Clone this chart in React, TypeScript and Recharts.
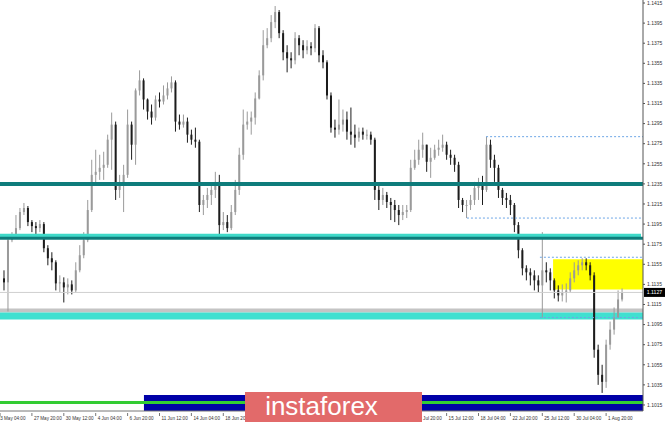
import { ComposedChart, Bar, XAxis, YAxis, ReferenceLine, ReferenceArea } from 'recharts';

// EURUSD H4, one candle per two bars, prices
const FIRST_OPEN = 1.1141;
const CLOSE = [
  1.1137, 1.1179, 1.1183, 1.1191, 1.1207, 1.1211, 1.1197, 1.1193, 1.1191, 1.1195,
  1.1171, 1.1161, 1.1157, 1.1136, 1.1137, 1.1132, 1.1135, 1.1129, 1.1149, 1.1164,
  1.1179, 1.1209, 1.1244, 1.1247, 1.1251, 1.1254, 1.1279, 1.1294, 1.1229, 1.1234,
  1.1244, 1.1294, 1.1274, 1.1328, 1.1338, 1.1319, 1.1307, 1.1301, 1.1319, 1.1317,
  1.1323, 1.1330, 1.1336, 1.1297, 1.1294, 1.1297, 1.1284, 1.1279, 1.1277, 1.1214,
  1.1219, 1.1224, 1.1229, 1.1237, 1.1194, 1.1197, 1.1191, 1.1207, 1.1229, 1.1264,
  1.1294, 1.1297, 1.1301, 1.1320, 1.1343, 1.1373, 1.1380, 1.1396, 1.1406, 1.1385,
  1.1366, 1.1360, 1.1358, 1.1380, 1.1373, 1.1368, 1.1372, 1.1370, 1.1390, 1.1363,
  1.1356, 1.1323, 1.1291, 1.1289, 1.1294, 1.1299, 1.1287, 1.1284, 1.1281, 1.1287,
  1.1284, 1.1284, 1.1279, 1.1229, 1.1219, 1.1224, 1.1217, 1.1214, 1.1209, 1.1204,
  1.1207, 1.1209, 1.1251, 1.1259, 1.1269, 1.1274, 1.1257, 1.1261, 1.1269, 1.1271,
  1.1274, 1.1264, 1.1261, 1.1254, 1.1219, 1.1214, 1.1214, 1.1219, 1.1231, 1.1234,
  1.1229, 1.1274, 1.1259, 1.1251, 1.1229, 1.1221, 1.1219, 1.1214, 1.1194, 1.1169,
  1.1151, 1.1147, 1.1144, 1.1139, 1.1134, 1.1149, 1.1147, 1.1139, 1.1129, 1.1124,
  1.1127, 1.1129, 1.1141, 1.1149, 1.1154, 1.1157, 1.1154, 1.1144, 1.1070, 1.1045,
  1.1038, 1.1075, 1.1090, 1.1102, 1.1120, 1.1127,
];
const HIGH = [
  1.1149, 1.1183, 1.1187, 1.1204, 1.1211, 1.1216, 1.1213, 1.1199, 1.1197, 1.1199,
  1.1197, 1.1174, 1.1167, 1.1159, 1.1144, 1.1142, 1.1141, 1.1139, 1.1157, 1.1174,
  1.1187, 1.1219, 1.1259, 1.1269, 1.1264, 1.1267, 1.1284, 1.1306, 1.1297, 1.1244,
  1.1254, 1.1309, 1.1297, 1.1330, 1.1348, 1.1340, 1.1320, 1.1314, 1.1323, 1.1326,
  1.1333, 1.1336, 1.1342, 1.1338, 1.1304, 1.1304, 1.1301, 1.1289, 1.1291, 1.1279,
  1.1224, 1.1231, 1.1236, 1.1247, 1.1244, 1.1207, 1.1204, 1.1214, 1.1239, 1.1271,
  1.1309, 1.1307, 1.1307, 1.1326, 1.1348, 1.1388, 1.1390, 1.1403, 1.1412, 1.1408,
  1.1388, 1.1373, 1.1366, 1.1386, 1.1383, 1.1378, 1.1378, 1.1376, 1.1394, 1.1392,
  1.1368, 1.1358, 1.1326, 1.1299, 1.1319, 1.1309, 1.1307, 1.1311, 1.1294, 1.1291,
  1.1291, 1.1289, 1.1287, 1.1281, 1.1234, 1.1231, 1.1227, 1.1221, 1.1219, 1.1214,
  1.1214, 1.1214, 1.1259, 1.1269, 1.1279, 1.1286, 1.1274, 1.1271, 1.1274, 1.1279,
  1.1284, 1.1277, 1.1269, 1.1264, 1.1257, 1.1221, 1.1219, 1.1224, 1.1237, 1.1241,
  1.1243, 1.1282, 1.1279, 1.1264, 1.1254, 1.1231, 1.1226, 1.1224, 1.1216, 1.1197,
  1.1171, 1.1154, 1.1151, 1.1149, 1.1144, 1.1187, 1.1157, 1.1151, 1.1141, 1.1134,
  1.1135, 1.1136, 1.1147, 1.1157, 1.1159, 1.1161, 1.1161, 1.1157, 1.1147, 1.1075,
  1.1055, 1.1080, 1.1098, 1.1112, 1.1129, 1.1131,
];
const LOW = [
  1.1129, 1.1108, 1.1177, 1.1181, 1.1189, 1.1204, 1.1193, 1.1187, 1.1184, 1.1187,
  1.1167, 1.1154, 1.1149, 1.1129, 1.1127, 1.1117, 1.1125, 1.1125, 1.1127, 1.1147,
  1.1161, 1.1177, 1.1207, 1.1236, 1.1239, 1.1239, 1.1251, 1.1249, 1.1219, 1.1221,
  1.1207, 1.1241, 1.1259, 1.1254, 1.1323, 1.1309, 1.1299, 1.1294, 1.1298, 1.1311,
  1.1314, 1.1319, 1.1326, 1.1287, 1.1289, 1.1291, 1.1276, 1.1274, 1.1271, 1.1207,
  1.1204, 1.1211, 1.1214, 1.1221, 1.1182, 1.1189, 1.1187, 1.1189, 1.1204, 1.1224,
  1.1259, 1.1289, 1.1284, 1.1294, 1.1319, 1.1338, 1.1370, 1.1376, 1.1390, 1.1380,
  1.1358, 1.1346, 1.1350, 1.1354, 1.1363, 1.1360, 1.1364, 1.1363, 1.1366, 1.1356,
  1.1350, 1.1319, 1.1286, 1.1281, 1.1284, 1.1287, 1.1279, 1.1274, 1.1271, 1.1277,
  1.1279, 1.1279, 1.1274, 1.1219, 1.1209, 1.1214, 1.1211, 1.1199, 1.1197, 1.1194,
  1.1199, 1.1201, 1.1207, 1.1249, 1.1254, 1.1261, 1.1247, 1.1241, 1.1259, 1.1263,
  1.1267, 1.1259, 1.1254, 1.1247, 1.1211, 1.1207, 1.1201, 1.1209, 1.1214, 1.1219,
  1.1214, 1.1227, 1.1251, 1.1237, 1.1221, 1.1214, 1.1211, 1.1204, 1.1187, 1.1161,
  1.1144, 1.1139, 1.1134, 1.1129, 1.1127, 1.1102, 1.1137, 1.1129, 1.1121, 1.1118,
  1.1118, 1.1117, 1.1127, 1.1137, 1.1144, 1.1149, 1.1149, 1.1139, 1.1062, 1.1035,
  1.1027, 1.1032, 1.1070, 1.1085, 1.1102, 1.1118,
];

const X_LABELS = [
  '23 May 04:00', '27 May 20:00', '30 May 12:00', '4 Jun 04:00', '6 Jun 20:00',
  '11 Jun 12:00', '14 Jun 04:00', '18 Jun 20:00', '21 Jun 12:00', '26 Jun 04:00',
  '28 Jun 20:00', '3 Jul 12:00', '8 Jul 04:00', '10 Jul 20:00', '15 Jul 12:00',
  '18 Jul 04:00', '22 Jul 20:00', '25 Jul 12:00', '30 Jul 04:00', '1 Aug 20:00',
];
const Y_TICKS = [
  1.1015, 1.1035, 1.1055, 1.1075, 1.1095, 1.1115, 1.1135, 1.1155, 1.1175, 1.1195, 1.1215,
  1.1235, 1.1255, 1.1275, 1.1295, 1.1315, 1.1335, 1.1355, 1.1375, 1.1395, 1.1415,
];

// analysis levels drawn on the chart
const RES_LEVEL = 1.1235;
const SUP_LEVEL = 1.1182;
const GRAY_ZONE = [1.1107, 1.1111];
const CYAN_ZONE = [1.1100, 1.1107];
const BOX_ZONE = [1.1130, 1.1160];
const DOTTED = [
  { from: 120.9, price: 1.1282 },
  { from: 116.1, price: 1.1201 },
  { from: 134.4, price: 1.1162 },
  { from: 134.4, price: 1.1102 },
];
const LABEL_STEP = 8; // 16 H4 bars between time labels = 8 candles

const data = CLOSE.map((close, i) => ({
  i,
  open: i === 0 ? FIRST_OPEN : CLOSE[i - 1],
  close,
  high: HIGH[i],
  low: LOW[i],
}));
const LAST = CLOSE[CLOSE.length - 1];
const X_MAX = 160.25;
const FONT = '"Liberation Sans", Arial, sans-serif';

const Candle = (props: any) => {
  const { x, y, width, height, payload } = props;
  if (!payload || x == null) return null;
  const top = Math.min(y, y + height);
  const h = Math.abs(height);
  const k = h / Math.max(payload.high - payload.low, 1e-9);
  const yO = top + (payload.high - payload.open) * k;
  const yC = top + (payload.high - payload.close) * k;
  const up = payload.close >= payload.open;
  const color = up ? '#9a9a9a' : '#1c1c1c';
  const cx = x + width / 2;
  return (
    <g>
      <line x1={cx} x2={cx} y1={top} y2={top + h} stroke={color} strokeWidth={1} />
      <rect x={x} y={Math.min(yO, yC)} width={width} height={Math.max(1, Math.abs(yC - yO))} fill={color} />
    </g>
  );
};

const XTick = (props: any) => {
  const { x, y, index } = props;
  const label = X_LABELS[index];
  return (
    <g>
      <line x1={x} x2={x} y1={y} y2={y + 3} stroke="#555" strokeWidth={0.8} />
      <text x={index === 0 ? x - 2.4 : x + 2} y={y + 6.5} fontSize={4.6} fill="#333" fontFamily={FONT}>{label}</text>
    </g>
  );
};

const PriceTag = (props: any) => {
  const vb = props.viewBox;
  if (!vb) return null;
  const x = vb.x + vb.width + 1;
  return (
    <g>
      <rect x={x} y={vb.y - 4.5} width={21} height={9} fill="#000" />
      <text x={x + 10.5} y={vb.y + 2} textAnchor="middle" fontSize={5.2} fill="#fff" fontFamily={FONT}>{LAST.toFixed(4)}</text>
    </g>
  );
};

export default function App() {
  return (
    <div style={{ position: 'absolute', left: 0, top: 0, width: 665, height: 422, background: '#fff', overflow: 'hidden' }}>
      <ComposedChart width={665} height={422} data={data} margin={{ top: 0, right: 0, bottom: 0, left: 0 }}>
        <XAxis
          dataKey="i"
          type="number"
          domain={[-1, X_MAX]}
          allowDataOverflow
          ticks={X_LABELS.map((_, k) => k * LABEL_STEP - 1 + (k === 0 ? 0.01 : 0))}
          interval={0}
          tick={<XTick />}
          tickLine={false}
          tickSize={0}
          axisLine={{ stroke: '#777' }}
          height={11}
        />
        <YAxis
          orientation="right"
          domain={[1.1009, 1.1418]}
          allowDataOverflow
          ticks={Y_TICKS}
          interval={0}
          tickFormatter={(v: number) => v.toFixed(4)}
          tick={{ fontSize: 5, fill: '#333', fontFamily: FONT }}
          tickSize={2}
          tickLine={{ stroke: '#555' }}
          axisLine={{ stroke: '#555' }}
          width={22}
        />
        <ReferenceArea x1={137.7} x2={X_MAX} y1={BOX_ZONE[0]} y2={BOX_ZONE[1]} fill="#ffff00" fillOpacity={1} stroke="none" />
        <ReferenceArea x1={35.1} x2={X_MAX} y1={1.1009} y2={1.1025} fill="#0000a8" fillOpacity={1} stroke="none" />
        <Bar dataKey={(d: any) => [d.low, d.high]} shape={<Candle />} barSize={2} isAnimationActive={false} />
        <ReferenceArea x1={-1} x2={X_MAX} y1={GRAY_ZONE[0]} y2={GRAY_ZONE[1]} fill="#c4c4c4" fillOpacity={1} stroke="none" />
        <ReferenceArea x1={-1} x2={X_MAX} y1={CYAN_ZONE[0]} y2={CYAN_ZONE[1]} fill="#40e0d0" fillOpacity={1} stroke="none" />
        <ReferenceLine y={1.10175} stroke="#33cc33" strokeWidth={3} />
        <ReferenceLine y={LAST} stroke="#cfcfcf" strokeWidth={1} label={<PriceTag />} />
        <ReferenceLine y={RES_LEVEL} stroke="#0e7c7b" strokeWidth={4} />
        <ReferenceLine segment={[{ x: -1, y: SUP_LEVEL + 0.00015 }, { x: 159.75, y: SUP_LEVEL + 0.00015 }]} stroke="#3fd9c8" strokeWidth={4} />
        <ReferenceLine y={SUP_LEVEL - 0.0001} stroke="#0e7c7b" strokeWidth={3} />
        {DOTTED.map((d) => (
          <ReferenceLine
            key={d.price}
            segment={[{ x: d.from, y: d.price }, { x: X_MAX, y: d.price }]}
            stroke="#6ea6e6"
            strokeWidth={1}
            strokeDasharray="2 2"
          />
        ))}
      </ComposedChart>
      <div
        style={{
          position: 'absolute', left: 245, top: 392, width: 177, height: 30,
          background: '#e26a6a', color: '#fff', fontFamily: FONT, fontSize: 26,
          lineHeight: '28px', textAlign: 'center', boxSizing: 'border-box', paddingRight: 24,
        }}
      >
        instaforex
      </div>
    </div>
  );
}
